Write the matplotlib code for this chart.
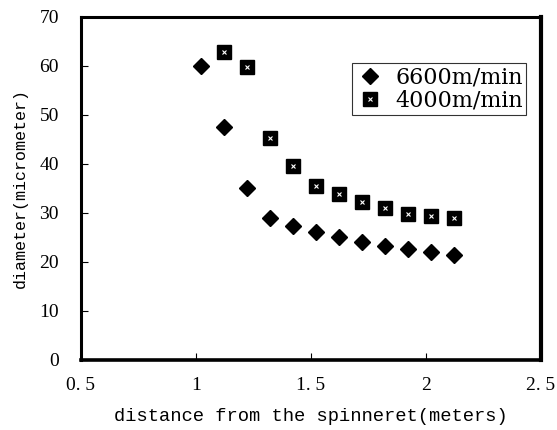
import matplotlib
matplotlib.use("Agg")
import matplotlib.pyplot as plt
from matplotlib.legend_handler import HandlerTuple

# distance from spinneret (m)
dist_6600 = [1.02, 1.12, 1.22, 1.32, 1.42, 1.52, 1.62, 1.72, 1.82, 1.92, 2.02, 2.12]
diam_6600 = [60.0, 47.5, 35.2, 29.0, 27.3, 26.1, 25.0, 24.1, 23.3, 22.7, 22.0, 21.4]

dist_4000 = [1.12, 1.22, 1.32, 1.42, 1.52, 1.62, 1.72, 1.82, 1.92, 2.02, 2.12]
diam_4000 = [62.9, 59.8, 45.4, 39.6, 35.6, 33.8, 32.2, 31.0, 29.8, 29.4, 29.0]

xticks = [0.5, 1, 1.5, 2, 2.5]
xticklabels = ["0. 5", "1", "1. 5", "2", "2. 5"]
yticks = [0, 10, 20, 30, 40, 50, 60, 70]

fig = plt.figure(figsize=(5.57, 4.30), dpi=100)
ax = fig.add_axes([0.1454, 0.1628, 0.8259, 0.7977])

d, = ax.plot(dist_6600, diam_6600, "D", color="black", markersize=8.5, linestyle="none")
s, = ax.plot(dist_4000, diam_4000, "s", color="black", markersize=10, linestyle="none")
# little white speckles inside the squares
sp, = ax.plot(dist_4000, diam_4000, "x", color="white", markersize=2.5, markeredgewidth=0.8, linestyle="none")

ax.set_xlim(0.5, 2.5)
ax.set_ylim(0, 70)
ax.set_xticks(xticks)
ax.set_xticklabels(xticklabels)
ax.set_yticks(yticks)

for side in ["left", "top"]:
    ax.spines[side].set_linewidth(2.2)
ax.spines["bottom"].set_linewidth(2.6)
ax.spines["right"].set_linewidth(3.0)

ax.tick_params(axis="both", direction="in", length=5, width=0.8, pad=12,
               labelsize=14)
ax.tick_params(axis="y", pad=16)
for lab in ax.get_xticklabels() + ax.get_yticklabels():
    lab.set_family("Liberation Serif")

ax.set_xlabel("distance from the spinneret(meters)", family="Liberation Mono",
              fontsize=13.5, labelpad=10)
ax.set_ylabel("diameter(micrometer)", family="Liberation Mono", fontsize=12,
              labelpad=8)

leg = ax.legend([d, (s, sp)], ["6600m/min", "4000m/min"],
                handler_map={tuple: HandlerTuple(ndivide=1)},
                loc="upper left", bbox_to_anchor=(0.589, 0.866),
                prop={"family": "DejaVu Serif", "size": 16},
                frameon=True, fancybox=False, handlelength=1.3,
                handletextpad=0.5, borderpad=0.15, labelspacing=0.05,
                borderaxespad=0)
leg.get_frame().set_edgecolor("black")
leg.get_frame().set_linewidth(0.8)

plt.savefig("out.png", dpi=100)
